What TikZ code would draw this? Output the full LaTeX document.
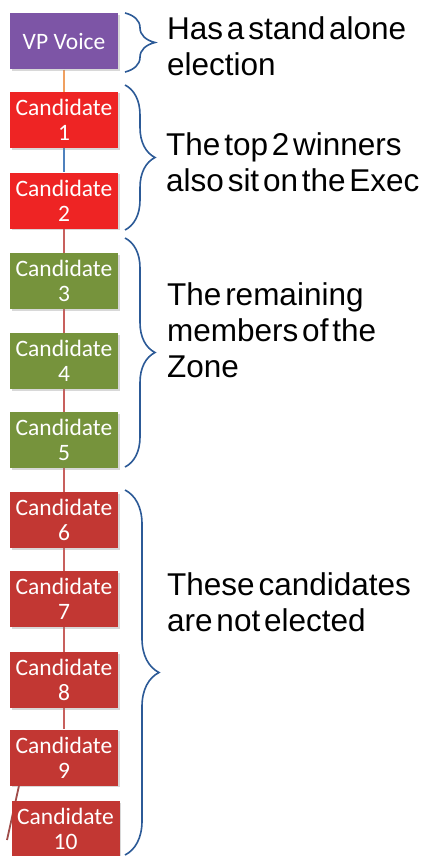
\documentclass[tikz,border=0pt]{standalone}
\usepackage{fontspec}
\setmainfont{Liberation Sans}
\newfontfamily\boxfont{Carlito}
\newcommand\mynotefont{\fontsize{31.5}{36}\selectfont\spaceskip=3.8pt\relax}
\usetikzlibrary{decorations.pathreplacing,shadows,backgrounds}
\definecolor{vpPurple}{HTML}{7D55A6}
\definecolor{topRed}{HTML}{EE2424}
\definecolor{zoneGreen}{HTML}{76933C}
\definecolor{lowRed}{HTML}{C23733}
\definecolor{linkOrange}{HTML}{F0A060}
\definecolor{linkBlue}{HTML}{4F81BD}
\definecolor{linkRed}{HTML}{C8605D}
\definecolor{braceBlue}{HTML}{2C5A97}
\begin{document}
\begin{tikzpicture}[x=1pt,y=-1pt,
  cand/.style={draw=none, minimum width=108pt, minimum height=56pt, inner sep=0pt,
    align=center, text=white, font=\boxfont\fontsize{23.5}{25}\selectfont,
    drop shadow={opacity=0.3,shadow xshift=1.5pt,shadow yshift=-1.5pt}},
  link/.style={line width=1.8pt},
  bracket/.style={draw=braceBlue, line width=1.6pt, decorate,
    decoration={brace, amplitude=30pt}},
  note/.style={anchor=west, align=left, inner sep=0pt, text=black,
    font=\mynotefont}]
\useasboundingbox (0,0) rectangle (422,856);

\node[cand, fill=vpPurple] (vp) at (64,41.5) {VP Voice};
\node[cand, fill=topRed] (c1) at (64,120) {Candidate\\1};
\node[cand, fill=topRed] (c2) at (64,200.5) {Candidate\\2};
\node[cand, fill=zoneGreen] (c3) at (64,281) {Candidate\\3};
\node[cand, fill=zoneGreen] (c4) at (64,361) {Candidate\\4};
\node[cand, fill=zoneGreen] (c5) at (64,440) {Candidate\\5};
\node[cand, fill=lowRed] (c6) at (64,520) {Candidate\\6};
\node[cand, fill=lowRed] (c7) at (64,599) {Candidate\\7};
\node[cand, fill=lowRed] (c8) at (64,680) {Candidate\\8};
\node[cand, fill=lowRed] (c9) at (64,757.5) {Candidate\\9};
\node[cand, fill=lowRed] (c10) at (65.5,829) {Candidate\\10};
\coordinate (tail) at (7,840);

\begin{pgfonlayer}{background}
\fill[white] (0,0) rectangle (422,856);
\draw[link, linkOrange] (vp.south) -- (c1.north);
\draw[link, linkBlue] (c1.south) -- (c2.north);
\draw[link, linkRed] (c2.south) -- (c3.north);
\draw[link, linkRed] (c3.south) -- (c4.north);
\draw[link, linkRed] (c4.south) -- (c5.north);
\draw[link, linkRed] (c5.south) -- (c6.north);
\draw[link, linkRed] (c6.south) -- (c7.north);
\draw[link, linkRed] (c7.south) -- (c8.north);
\draw[link, linkRed] (c8.south) -- (c9.north);
\draw[link, linkRed!80!black] ([xshift=-45pt]c9.south) -- (tail);
\end{pgfonlayer}

\draw[bracket] (125,13) -- (125,72);
\draw[bracket] (125,85) -- (125,230);
\draw[bracket] (125,238) -- (125,467);
\draw[bracket, decoration={brace, amplitude=34pt}] (125,490) -- (125,855);

\node[note] (t1) at (167,46) {Has a stand alone\\election};
\node[note] (t2) at (166,162) {The top 2 winners\\also sit on the Exec};
\node[note] (t3) at (167,330) {The remaining\\members of the\\Zone};
\node[note] (t4) at (167,602) {These candidates\\are not elected};
\end{tikzpicture}
\end{document}
